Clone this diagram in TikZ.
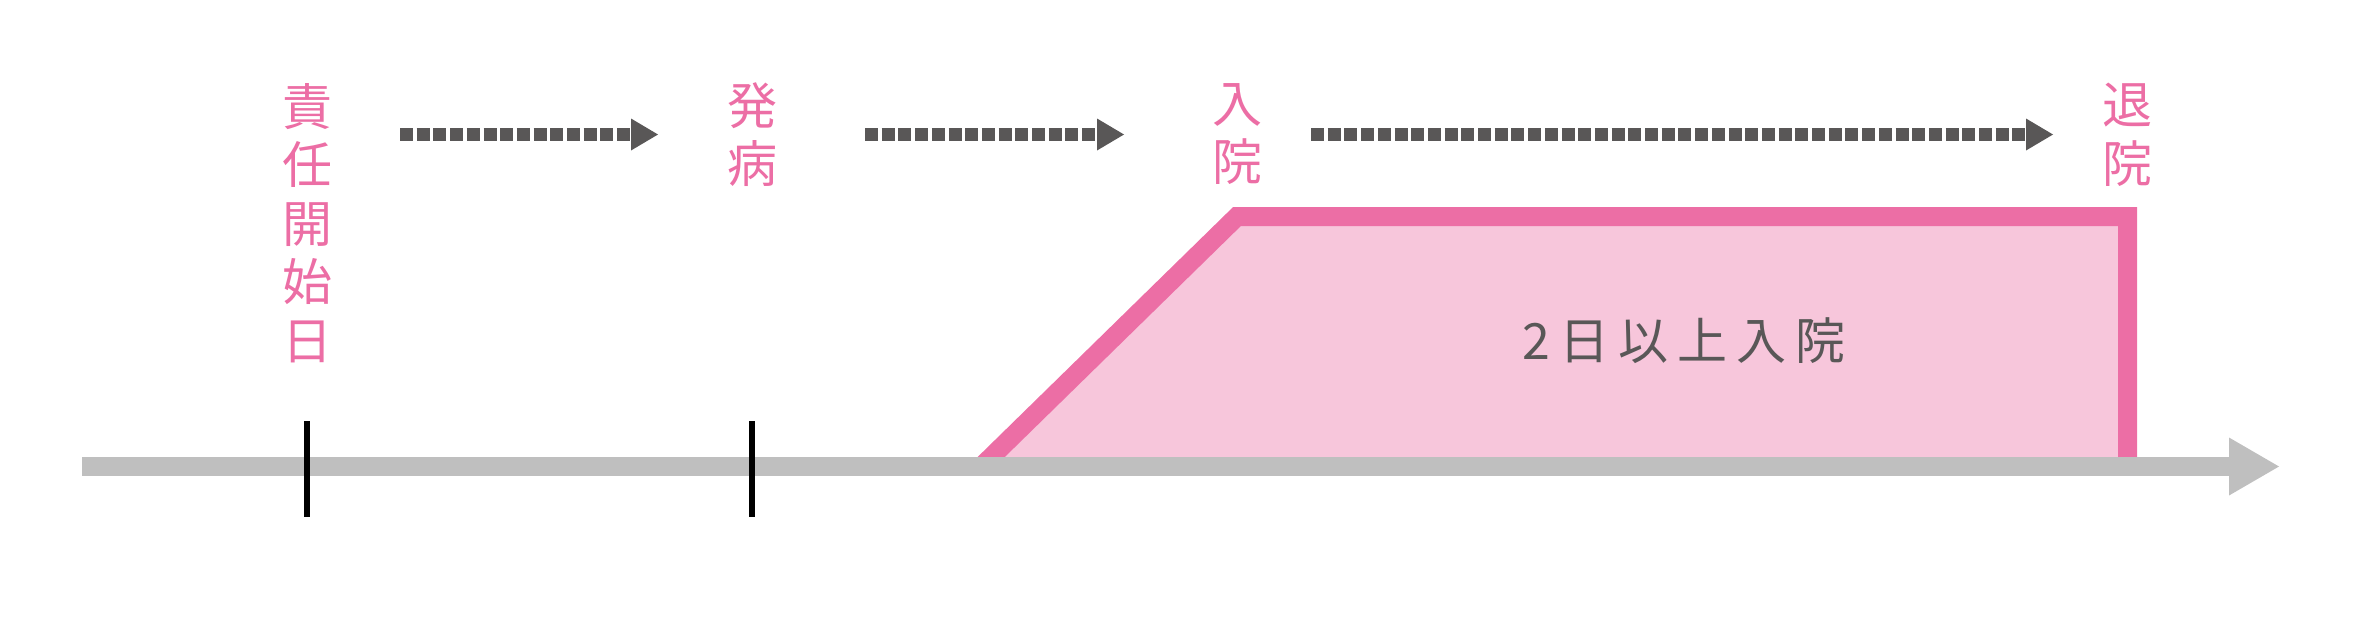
\documentclass[tikz,border=0pt]{standalone}
\usepackage{fontspec}
\usepackage{tikz}
\usetikzlibrary{arrows.meta}
\usetikzlibrary{positioning}
\newfontfamily\jpfont{Noto Sans CJK JP}
\newfontfamily\jpspaced{Noto Sans CJK JP}[LetterSpace=18]
\definecolor{pinkline}{HTML}{EC6EA5}
\definecolor{pinkfill}{HTML}{F7C6DB}
\definecolor{axisgray}{HTML}{BFBFBF}
\definecolor{darkgray}{HTML}{595757}

\begin{document}
\begin{tikzpicture}[x=1pt,y=-1pt,
    event/.style={font=\jpfont\fontsize{50}{58.5}\selectfont, color=pinkline, align=center, inner sep=0pt, anchor=north},
    dots/.style={darkgray, line width=13pt, dash pattern=on 13pt off 3.7pt, -{Triangle[length=27pt,width=32pt,line width=0pt]}},
    tick/.style={black, line width=5.5pt}]
    \useasboundingbox (0,0) rectangle (2362,630);
    % stay in hospital
    \fill[pinkfill] (982,466) -- (1237,216.5) -- (2127.5,216.5) -- (2127.5,466) -- cycle;
    \draw[pinkline, line width=19pt] (982,466) -- (1237,216.5) -- (2127.5,216.5) -- (2127.5,466);
    \node[font=\jpspaced\fontsize{50}{60}\selectfont, color=darkgray, inner sep=0pt] (stay) at (1684,341) {2日以上入院};
    % time axis
    \coordinate (axisstart) at (82,466.5);
    \coordinate (axisend) at (2279,466.5);
    \draw[axisgray, line width=19pt, -{Triangle[length=50pt,width=58pt,line width=0pt]}] (axisstart) -- (axisend);
    \coordinate (start top) at (307,421);
    \coordinate (start bottom) at (307,517);
    \coordinate (onset top) at (752,421);
    \coordinate (onset bottom) at (752,517);
    \draw[tick] (start top) -- (start bottom);
    \draw[tick] (onset top) -- (onset bottom);
    % events
    \node[event] (start) at (307,83) {責\\任\\開\\始\\日};
    \node[event] (onset) at (752,82) {発\\病};
    \node[event] (admit) at (1237,83) {入\\院};
    \node[event] (leave) at (2127.5,83) {退\\院};
    \coordinate (dots1a) at (400,134.5);
    \coordinate (dots1b) at (658,134.5);
    \coordinate (dots2a) at (865,134.5);
    \coordinate (dots2b) at (1124,134.5);
    \coordinate (dots3a) at (1311,134.5);
    \coordinate (dots3b) at (2053,134.5);
    \draw[dots] (dots1a) -- (dots1b);
    \draw[dots] (dots2a) -- (dots2b);
    \draw[dots] (dots3a) -- (dots3b);
\end{tikzpicture}
\end{document}
